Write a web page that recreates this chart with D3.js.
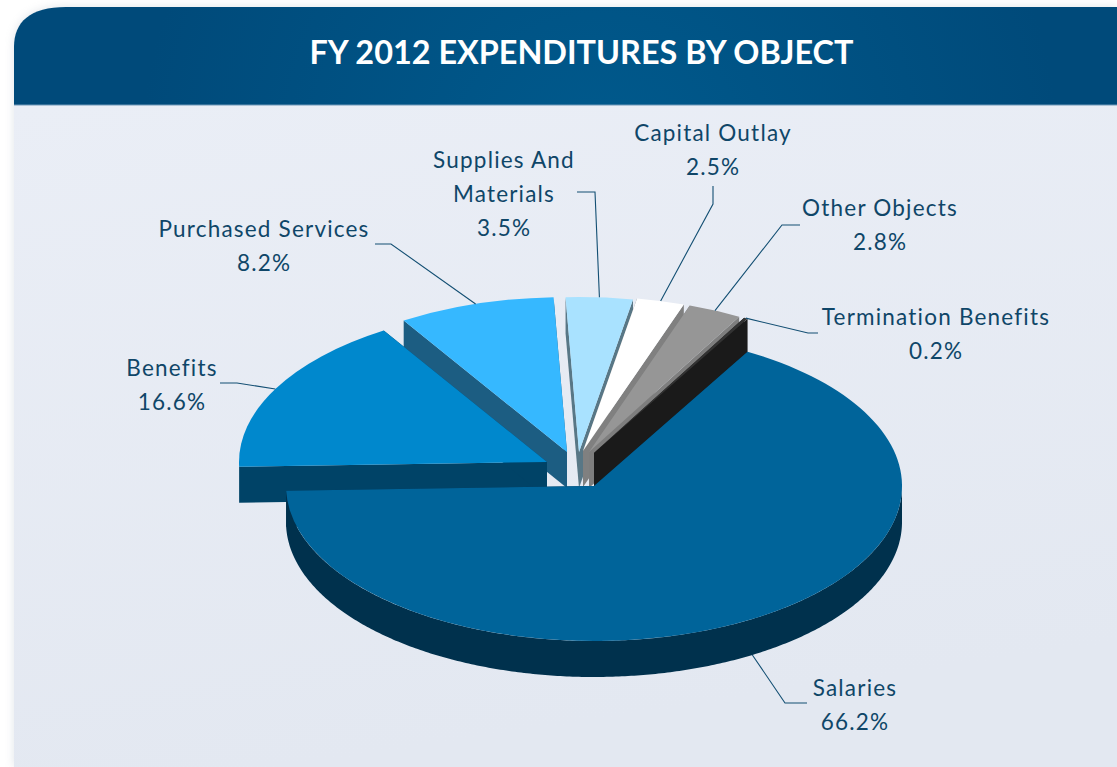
<!DOCTYPE html>
<html>
<head>
<meta charset="utf-8">
<script src="https://cdn.jsdelivr.net/npm/d3@7"></script>
<style>
  html, body { margin: 0; padding: 0; background: #fff; overflow: hidden; }
  svg { display: block; }
</style>
</head>
<body>
<div class="chart"></div>
<script>
const title = "FY 2012 EXPENDITURES BY OBJECT";
const categories = ["Salaries", "Benefits", "Purchased Services", "Supplies And Materials", "Capital Outlay", "Other Objects", "Termination Benefits"];
const shares = [66.2, 16.6, 8.2, 3.5, 2.5, 2.8, 0.2];

const dims = { width: 1117, height: 767 };
const center = { x: 594, y: 486 };
const rx = 308, ry = 155, depth = 36;
const firstAngle = 29.9 * Math.PI / 180;

// how far each slice is pulled out, and its colours
const pull = [[0, 0], [-47, -24], [-27, -34], [-15, -34], [-11, -35], [-5, -34], [0, -33]];
const faceColors = ["#00649a", "#0088cd", "#36b8ff", "#a9e2ff", "#ffffff", "#969696", "#333333"];
const wallColors = ["#00314d", "#004367", "#1c5d82", "#587786", "#808080", "#7e7e7e", "#1a1a1a"];
// back to front
const drawOrder = [3, 4, 5, 6, 2, 1, 0];

// label layout: centre x, first baseline, leader elbow, leader end, wrapped name
const labelLayout = [
  { x: 855, y: 696, elbow: [785, 703], end: [807, 703], lines: ["Salaries"] },
  { x: 172, y: 376, elbow: [237, 383], end: [220, 383], lines: ["Benefits"] },
  { x: 264, y: 237, elbow: [391, 244], end: [375, 244], lines: ["Purchased Services"] },
  { x: 504, y: 168, elbow: [595, 192], end: [577, 192], lines: ["Supplies And", "Materials"] },
  { x: 713, y: 141, elbow: [713, 204], end: [713, 186], lines: ["Capital Outlay"] },
  { x: 880, y: 216, elbow: [782, 225], end: [800, 225], lines: ["Other Objects"] },
  { x: 936, y: 325, elbow: [808, 333], end: [818, 333], lines: ["Termination Benefits"] }
];
const lineGap = 34;

const svg = d3.select(".chart").append("svg")
  .attr("width", dims.width)
  .attr("height", dims.height);

const defs = svg.append("defs");

const panelGrad = defs.append("linearGradient").attr("id", "panel-grad")
  .attr("x1", 0).attr("y1", 0).attr("x2", 0.25).attr("y2", 1);
panelGrad.append("stop").attr("offset", "0%").attr("stop-color", "#eaeef6");
panelGrad.append("stop").attr("offset", "100%").attr("stop-color", "#e3e8f1");

const headGrad = defs.append("radialGradient").attr("id", "head-grad")
  .attr("gradientUnits", "userSpaceOnUse")
  .attr("cx", 600).attr("cy", 160).attr("r", 460);
headGrad.append("stop").attr("offset", "0%").attr("stop-color", "#005a8d");
headGrad.append("stop").attr("offset", "100%").attr("stop-color", "#004a7a");

const soft = defs.append("filter").attr("id", "soft")
  .attr("x", "-5%").attr("y", "-5%").attr("width", "110%").attr("height", "110%");
soft.append("feGaussianBlur").attr("stdDeviation", 5);

// panel and header
const headerPath = "M14 105 V47 C14 22 30 7 66 7 H1117 V105 Z";
svg.append("path")
  .attr("d", "M14 767 V47 C14 22 30 7 66 7 H1117 V767 Z")
  .attr("fill", "#9aa4b4").attr("opacity", 0.3).attr("filter", "url(#soft)");
svg.append("rect")
  .attr("x", 14).attr("y", 105).attr("width", dims.width - 14).attr("height", dims.height - 105)
  .attr("fill", "url(#panel-grad)");
svg.append("path").attr("d", headerPath).attr("fill", "url(#head-grad)");
svg.append("line")
  .attr("x1", 14).attr("x2", dims.width).attr("y1", 105).attr("y2", 105)
  .attr("stroke", "#6f98b8").attr("stroke-width", 1);

svg.append("text")
  .attr("x", 581.5).attr("y", 64)
  .attr("text-anchor", "middle")
  .style("font-family", "Lato, sans-serif")
  .style("font-weight", 700)
  .style("font-size", "32.4px")
  .style("fill", "#fff")
  .text(title);

// slices
const pie = d3.pie().sort(null).startAngle(firstAngle).endAngle(firstAngle + 2 * Math.PI);
const slices = pie(shares);
const arc = d3.arc().innerRadius(0).outerRadius(rx);

const rimPoint = (apex, a) => [apex[0] + rx * Math.sin(a), apex[1] - ry * Math.cos(a)];

const wallPath = (apex, a) => {
  const p = rimPoint(apex, a);
  return d3.line()([apex, p, [p[0], p[1] + depth], [apex[0], apex[1] + depth]]) + "Z";
};

const rimArea = d3.area()
  .x(d => d.x)
  .y0(d => d.y)
  .y1(d => d.y + depth);

const pieGroup = svg.append("g").attr("class", "pie");

drawOrder.forEach(i => {
  const s = slices[i];
  const apex = [center.x + pull[i][0], center.y + pull[i][1]];
  const g = pieGroup.append("g");

  g.append("path").attr("d", wallPath(apex, s.startAngle)).attr("fill", wallColors[i]);
  g.append("path").attr("d", wallPath(apex, s.endAngle)).attr("fill", wallColors[i]);

  // only the front half of the rim shows
  const from = Math.max(s.startAngle, Math.PI / 2);
  const to = Math.min(s.endAngle, 3 * Math.PI / 2);
  if (to > from) {
    const steps = d3.range(from, to, 0.01).concat(to).map(a => {
      const p = rimPoint(apex, a);
      return { x: p[0], y: p[1] };
    });
    g.append("path").attr("d", rimArea(steps)).attr("fill", wallColors[i]);
  }

  g.append("path")
    .attr("d", arc(s))
    .attr("transform", `translate(${apex[0]}, ${apex[1]}) scale(1, ${ry / rx})`)
    .attr("fill", faceColors[i]);
});

// labels and leaders
const labels = svg.append("g").attr("class", "labels");
categories.forEach((name, i) => {
  const s = slices[i];
  const l = labelLayout[i];
  const apex = [center.x + pull[i][0], center.y + pull[i][1]];
  const mid = (s.startAngle + s.endAngle) / 2;
  const p = rimPoint(apex, mid);
  // slices whose rim midpoint is at the front start from the lower edge
  const start = Math.cos(mid) < 0 ? [p[0], p[1] + depth] : p;

  labels.append("path")
    .attr("d", d3.line()([start, l.elbow, l.end]))
    .attr("fill", "none")
    .attr("stroke", "#134f73")
    .attr("stroke-width", 1.1);

  const text = labels.append("text")
    .attr("text-anchor", "middle")
    .style("font-family", "Lato, sans-serif")
    .style("font-size", "22.5px")
    .style("letter-spacing", "1.2px")
    .style("fill", "#0f4668");
  l.lines.concat(`${shares[i].toFixed(1)}%`).forEach((t, k) => {
    text.append("tspan").attr("x", l.x).attr("y", l.y + k * lineGap).text(t);
  });
});
</script>
</body>
</html>
